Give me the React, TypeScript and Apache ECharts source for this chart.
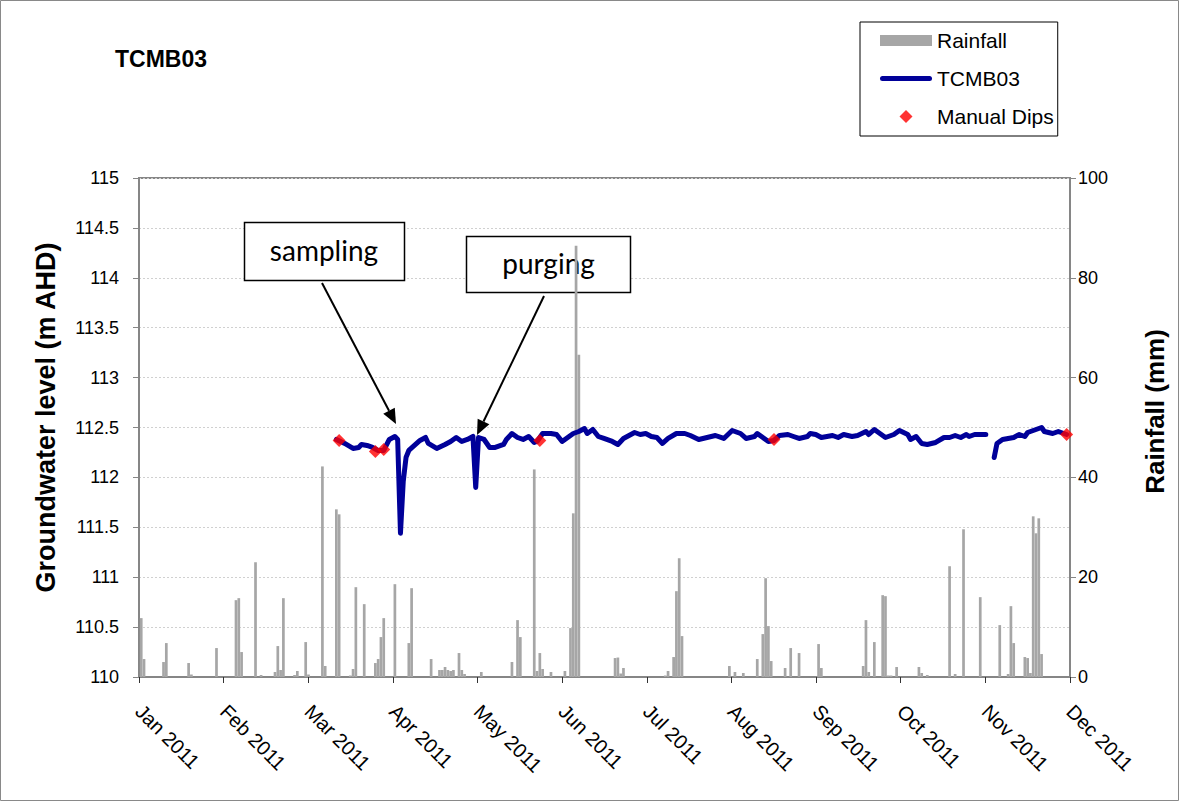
import React, { useEffect, useRef } from 'react';
import * as echarts from 'echarts';

const monthLabels = ['Jan 2011', 'Feb 2011', 'Mar 2011', 'Apr 2011', 'May 2011', 'Jun 2011', 'Jul 2011', 'Aug 2011', 'Sep 2011', 'Oct 2011', 'Nov 2011', 'Dec 2011'];

// logger record: day index from axis start, level in m AHD (null = gap)
const levelDays = [70, 73, 76, 78, 79, 81, 83, 85, 87, 89, 91, 92, 93, 94, 95, 96, 98, 100, 102, 103, 106, 109, 111, 113, 115, 117, 119, 120, 121, 123, 125, 127, 130, 131, 133, 135, 137, 139, 141, 142, 144, 147, 149, 151, 153, 155, 157, 159, 160, 162, 164, 166, 169, 171, 173, 177, 179, 181, 183, 185, 187, 189, 192, 195, 197, 200, 203, 206, 209, 212, 215, 217, 220, 221, 223, 225, 227, 229, 232, 234, 236, 239, 240, 242, 244, 246, 248, 250, 252, 255, 257, 260, 261, 263, 265, 267, 270, 272, 275, 276, 278, 280, 282, 285, 288, 290, 292, 294, 296, 297, 299, 301, 303, 304, 306, 307, 309, 311, 313, 315, 317, 318, 320, 321, 323, 324, 327, 329, 332];
const levelValues = [112.38, 112.34, 112.29, 112.30, 112.33, 112.32, 112.30, 112.27, 112.27, 112.38, 112.41, 112.38, 111.44, 111.96, 112.20, 112.27, 112.32, 112.37, 112.40, 112.34, 112.29, 112.33, 112.36, 112.40, 112.36, 112.38, 112.41, 111.90, 112.40, 112.38, 112.30, 112.30, 112.33, 112.38, 112.44, 112.40, 112.38, 112.41, 112.35, 112.36, 112.44, 112.44, 112.43, 112.36, 112.40, 112.44, 112.46, 112.49, 112.44, 112.48, 112.41, 112.39, 112.36, 112.33, 112.39, 112.45, 112.43, 112.44, 112.41, 112.40, 112.34, 112.39, 112.44, 112.44, 112.42, 112.38, 112.40, 112.42, 112.39, 112.47, 112.44, 112.39, 112.41, 112.44, 112.40, 112.36, 112.37, 112.42, 112.43, 112.41, 112.39, 112.41, 112.44, 112.43, 112.40, 112.41, 112.42, 112.40, 112.43, 112.41, 112.42, 112.46, 112.43, 112.48, 112.44, 112.40, 112.43, 112.47, 112.43, 112.38, 112.41, 112.34, 112.33, 112.35, 112.40, 112.40, 112.42, 112.40, 112.43, 112.41, 112.43, 112.43, 112.43, null, 112.20, 112.34, 112.38, 112.39, 112.40, 112.43, 112.41, 112.45, 112.47, 112.48, 112.50, 112.46, 112.44, 112.46, 112.43];

// daily rainfall (mm), non-zero days only
const rainDays = [0, 1, 8, 9, 17, 18, 27, 34, 35, 36, 41, 43, 48, 49, 50, 51, 55, 56, 59, 60, 65, 66, 70, 71, 75, 76, 77, 80, 84, 85, 86, 87, 91, 96, 97, 104, 107, 108, 109, 110, 111, 112, 114, 115, 116, 122, 133, 135, 136, 141, 142, 143, 144, 147, 152, 154, 155, 156, 157, 170, 171, 172, 173, 188, 189, 191, 192, 193, 194, 211, 213, 216, 221, 223, 224, 225, 226, 231, 233, 236, 243, 244, 259, 260, 261, 263, 266, 267, 268, 269, 271, 279, 280, 282, 290, 292, 295, 301, 308, 311, 312, 313, 317, 318, 319, 320, 321, 322, 323];
const rainMm = [11.8, 3.6, 3, 6.8, 2.8, 0.5, 5.8, 15.4, 15.8, 5, 23, 0.4, 1, 6.2, 1.4, 15.8, 0.4, 1.2, 7, 0.5, 42.2, 2.2, 33.6, 32.6, 0.3, 1.6, 18, 14.6, 2.8, 3.6, 8, 11.8, 18.6, 6.8, 17.8, 3.6, 1.4, 1.4, 2, 1.4, 1.2, 1.4, 4.8, 1.4, 0.6, 1, 3, 11.4, 8, 41.6, 1.2, 4.8, 1.6, 1, 1.2, 9.8, 32.8, 86.4, 64.6, 3.8, 3.9, 0.7, 1.8, 0.3, 1.2, 4, 17.2, 23.8, 8.2, 2.2, 1, 0.8, 3.6, 8.6, 19.8, 10.2, 3.2, 1.8, 5.8, 4.8, 6.6, 1.8, 2.2, 11.4, 1, 7, 16.4, 16.2, 0.3, 0.3, 2, 2, 0.8, 0.4, 22.2, 0.6, 29.6, 16, 10.4, 0.6, 14.2, 6.8, 4, 3.8, 0.8, 32.2, 28.8, 31.8, 4.6];

// manual dip readings
const dipDays = [71, 84, 87, 143, 227, 332];
const dipLevels = [112.37, 112.26, 112.28, 112.37, 112.38, 112.43];

const AXIS_DAYS = 334;
const SLOT = 0.8;
const toX = (d: number) => ((d + SLOT) * (monthLabels.length - 1)) / AXIS_DAYS;

const FONT = 'Liberation Sans, Arial, sans-serif';
const GREY = '#868686';
const NAVY = '#000099';

function arrow(x1: number, y1: number, x2: number, y2: number) {
  const dx = x2 - x1;
  const dy = y2 - y1;
  const len = Math.sqrt(dx * dx + dy * dy);
  const ux = dx / len;
  const uy = dy / len;
  const hl = 15;
  const hw = 6.5;
  const bx = x2 - ux * hl;
  const by = y2 - uy * hl;
  return [
    { type: 'line', z: 5, shape: { x1, y1, x2: bx, y2: by }, style: { stroke: '#000', lineWidth: 2 } },
    {
      type: 'polygon',
      z: 5,
      shape: { points: [[x2, y2], [bx - uy * hw, by + ux * hw], [bx + uy * hw, by - ux * hw]] },
      style: { fill: '#000' },
    },
  ];
}

export default function App() {
  const ref = useRef<HTMLDivElement>(null);
  useEffect(() => {
    if (!ref.current) return;
    const chart = echarts.init(ref.current, undefined, { renderer: 'svg' });
    const option: any = {
      animation: false,
      backgroundColor: '#fff',
      title: {
        text: 'TCMB03',
        left: 110,
        top: 42,
        textStyle: { fontFamily: FONT, fontSize: 23, fontWeight: 'bold', color: '#000' },
      },
      legend: {
        orient: 'vertical',
        left: 860,
        top: 22,
        padding: [8, 4, 9, 20],
        itemWidth: 52,
        itemHeight: 13,
        itemGap: 17,
        borderColor: '#000',
        borderWidth: 1,
        backgroundColor: '#fff',
        textStyle: { fontFamily: FONT, fontSize: 21, color: '#000', padding: [0, 0, 0, 0] },
        data: [
          { name: 'Rainfall', icon: 'path://M0,0H52V11H0Z' },
          { name: 'TCMB03', icon: 'path://M2.5,0H49.5A2.5,2.5,0,0,1,49.5,5H2.5A2.5,2.5,0,0,1,2.5,0Z' },
          { name: 'Manual Dips', icon: 'path://M5,0L10,5L5,10L0,5Z' },
        ],
      },
      grid: {
        left: 139,
        right: 109,
        top: 178,
        bottom: 124,
        show: true,
        borderColor: GREY,
        borderWidth: 2,
      },
      xAxis: {
        type: 'value',
        min: 0,
        max: monthLabels.length - 1,
        interval: 1,
        splitLine: { show: false },
        axisLine: { lineStyle: { color: GREY, width: 2 } },
        axisTick: { length: 6, lineStyle: { color: '#333', width: 1 } },
        axisLabel: {
          rotate: -45,
          margin: 31,
          fontFamily: FONT,
          fontSize: 20,
          color: '#000',
          formatter: (v: number) => monthLabels[Math.round(v)] ?? '',
        },
      },
      yAxis: [
        {
          type: 'value',
          min: 110,
          max: 115,
          interval: 0.5,
          name: 'Groundwater level (m AHD)',
          nameLocation: 'middle',
          nameGap: 80,
          nameTextStyle: { fontFamily: FONT, fontSize: 27, fontWeight: 'bold', color: '#000', padding: [0, 0, 0, 20] },
          axisLine: { show: true, lineStyle: { color: GREY, width: 2 } },
          axisTick: { show: true, length: 6, lineStyle: { color: GREY } },
          axisLabel: { margin: 20, fontFamily: FONT, fontSize: 18, color: '#000' },
          splitLine: { show: true, lineStyle: { color: '#d0d0d0', type: [2, 2], width: 1 } },
        },
        {
          type: 'value',
          min: 0,
          max: 100,
          interval: 20,
          position: 'right',
          name: 'Rainfall (mm)',
          nameLocation: 'middle',
          nameGap: 72,
          nameRotate: 90,
          nameTextStyle: { fontFamily: FONT, fontSize: 26, fontWeight: 'bold', color: '#000', padding: [0, 0, 0, 32] },
          axisLine: { show: true, lineStyle: { color: GREY, width: 2 } },
          axisTick: { show: true, length: 6, lineStyle: { color: GREY } },
          axisLabel: { margin: 8, fontFamily: FONT, fontSize: 18, color: '#000' },
          splitLine: { show: false },
        },
      ],
      graphic: [
        {
          type: 'rect',
          silent: true,
          z: 0,
          shape: { x: 0.5, y: 0.5, width: 1178, height: 800 },
          style: { fill: 'none', stroke: '#898989', lineWidth: 1 },
        },
        {
          type: 'rect',
          z: 1,
          shape: { x: 244.5, y: 222.5, width: 160, height: 58 },
          style: { fill: '#fff', stroke: '#000', lineWidth: 1.5 },
        },
        {
          type: 'text',
          z: 1,
          x: 324,
          y: 250,
          style: { text: 'sampling', fontFamily: 'Lato, sans-serif', fontSize: 28, fill: '#000', align: 'center', verticalAlign: 'middle' },
        },
        {
          type: 'rect',
          z: 1,
          shape: { x: 466.5, y: 236.5, width: 164, height: 56 },
          style: { fill: '#fff', stroke: '#000', lineWidth: 1.5 },
        },
        {
          type: 'text',
          z: 1,
          x: 548.5,
          y: 263,
          style: { text: 'purging', fontFamily: 'Lato, sans-serif', fontSize: 28, fill: '#000', align: 'center', verticalAlign: 'middle' },
        },
        ...arrow(322, 283, 396, 424),
        ...arrow(544, 296, 477, 435),
      ],
      series: [
        {
          name: 'Rainfall',
          type: 'bar',
          yAxisIndex: 1,
          z: 2,
          barWidth: 2.7,
          itemStyle: { color: '#a6a6a6' },
          data: rainDays.map((d, i) => [toX(d), rainMm[i]]),
        },
        {
          name: 'TCMB03',
          type: 'line',
          yAxisIndex: 0,
          z: 3,
          symbol: 'none',
          showSymbol: false,
          connectNulls: false,
          lineStyle: { color: NAVY, width: 5, join: 'round', cap: 'round' },
          itemStyle: { color: NAVY },
          data: levelDays.map((d, i) => [toX(d), levelValues[i] === null ? '-' : levelValues[i]]),
        },
        {
          name: 'Manual Dips',
          type: 'scatter',
          yAxisIndex: 0,
          z: 4,
          symbol: 'diamond',
          symbolSize: 13,
          symbolKeepAspect: true,
          itemStyle: { color: '#ff0000' },
          data: dipDays.map((d, i) => [toX(d), dipLevels[i]]),
        },
      ],
    };
    chart.setOption(option);
    return () => chart.dispose();
  }, []);
  return <div ref={ref} style={{ position: 'fixed', left: 0, top: 0, width: 1179, height: 801 }} />;
}
